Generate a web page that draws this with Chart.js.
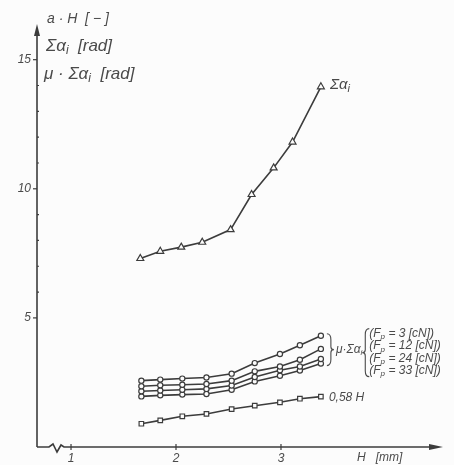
<!DOCTYPE html>
<html>
<head>
<meta charset="utf-8">
<script src="https://cdn.jsdelivr.net/npm/chart.js@4/dist/chart.umd.min.js"></script>
<style>
  html, body { margin: 0; padding: 0; background: #fcfcfc; }
  #wrap { width: 454px; height: 465px; }
</style>
</head>
<body>
<div id="wrap"><canvas id="c" width="454" height="465"></canvas></div>
<script>
// H [mm] positions of the measured points
const H_SUM = [1.66, 1.85, 2.05, 2.25, 2.52, 2.72, 2.93, 3.11, 3.38];
const H_LOW = [1.67, 1.85, 2.06, 2.29, 2.53, 2.75, 2.99, 3.18, 3.38];

// sum of wrap angles [rad]
const SUM_ALPHA = [7.30, 7.58, 7.74, 7.93, 8.42, 9.78, 10.81, 11.81, 13.95];

// mu * sum alpha for the four pretension forces
const MU_F3  = [2.57, 2.61, 2.65, 2.69, 2.84, 3.25, 3.60, 3.94, 4.31];
const MU_F12 = [2.35, 2.39, 2.41, 2.44, 2.57, 2.93, 3.12, 3.38, 3.80];
const MU_F24 = [2.16, 2.19, 2.22, 2.25, 2.38, 2.71, 2.97, 3.12, 3.41];
const MU_F33 = [1.96, 2.00, 2.03, 2.05, 2.22, 2.54, 2.76, 2.96, 3.23];

// reference line 0,58 H
const LINE_058 = [0.90, 1.03, 1.19, 1.28, 1.47, 1.60, 1.73, 1.87, 1.95];

const X_TICKS = [1, 2, 3];
const Y_TICKS = [5, 10, 15];
const Y_MINOR = [6, 7, 8, 9, 11, 12, 13, 14];

const INK = '#3c3c3c';
const TEXT = '#4a4a4a';
const FONT = 'italic 12px "Liberation Sans", "DejaVu Sans", sans-serif';

function pts(xs, ys) {
  return xs.map((x, i) => ({ x: x, y: ys[i] }));
}

function series(data, style, r) {
  return {
    data: data,
    borderColor: INK,
    borderWidth: 1.6,
    pointStyle: style,
    pointRadius: r,
    pointBorderWidth: 1.2,
    pointBorderColor: INK,
    pointBackgroundColor: '#fcfcfc',
    tension: 0,
    fill: false
  };
}

// text with subscripts: parts = [[text, isSub], ...]
function richText(ctx, parts, x, y, size) {
  let cx = x;
  parts.forEach(p => {
    const sub = p[1];
    ctx.font = 'italic ' + (sub ? Math.round(size * 0.7) : size) + 'px "Liberation Sans", "DejaVu Sans", sans-serif';
    ctx.fillText(p[0], cx, sub ? y + size * 0.3 : y);
    cx += ctx.measureText(p[0]).width;
  });
  return cx;
}

const axesPlugin = {
  id: 'axes',
  beforeDatasetsDraw(chart) {
    const ctx = chart.ctx;
    const xs = chart.scales.x, ys = chart.scales.y;
    const x0 = chart.chartArea.left, yb = ys.getPixelForValue(0);
    ctx.save();
    ctx.strokeStyle = INK;
    ctx.fillStyle = INK;
    ctx.lineWidth = 1.6;

    // y axis with arrow
    ctx.beginPath();
    ctx.moveTo(x0, yb);
    ctx.lineTo(x0, chart.chartArea.top);
    ctx.stroke();
    ctx.beginPath();
    ctx.moveTo(x0, chart.chartArea.top - 6);
    ctx.lineTo(x0 - 3, chart.chartArea.top + 6);
    ctx.lineTo(x0 + 3, chart.chartArea.top + 6);
    ctx.closePath();
    ctx.fill();

    // x axis with break and arrow
    const xr = chart.chartArea.right;
    ctx.beginPath();
    ctx.moveTo(x0, yb);
    ctx.lineTo(x0 + 12, yb);
    ctx.lineTo(x0 + 16, yb - 3);
    ctx.lineTo(x0 + 20, yb + 5);
    ctx.lineTo(x0 + 24, yb - 2);
    ctx.lineTo(x0 + 27, yb);
    ctx.lineTo(xr, yb);
    ctx.stroke();
    ctx.beginPath();
    ctx.moveTo(xr + 6, yb);
    ctx.lineTo(xr - 8, yb - 3);
    ctx.lineTo(xr - 8, yb + 3);
    ctx.closePath();
    ctx.fill();

    // ticks
    ctx.lineWidth = 1.2;
    X_TICKS.forEach(v => {
      const px = xs.getPixelForValue(v);
      ctx.beginPath();
      ctx.moveTo(px, yb - 3);
      ctx.lineTo(px, yb + 3);
      ctx.stroke();
    });
    Y_TICKS.forEach(v => {
      const py = ys.getPixelForValue(v);
      ctx.beginPath();
      ctx.moveTo(x0 - 4, py);
      ctx.lineTo(x0, py);
      ctx.stroke();
    });
    Y_MINOR.forEach(v => {
      const py = ys.getPixelForValue(v);
      ctx.beginPath();
      ctx.moveTo(x0, py);
      ctx.lineTo(x0 + 2, py);
      ctx.stroke();
    });

    // tick labels
    ctx.fillStyle = TEXT;
    ctx.font = FONT;
    ctx.textBaseline = 'middle';
    ctx.textAlign = 'center';
    X_TICKS.forEach(v => ctx.fillText(String(v), xs.getPixelForValue(v), yb + 12));
    ctx.textAlign = 'right';
    Y_TICKS.forEach(v => ctx.fillText(String(v), x0 - 6, ys.getPixelForValue(v)));

    // axis titles
    ctx.textAlign = 'left';
    richText(ctx, [['a · H  [ − ]', false]], 47, 19, 14);
    richText(ctx, [['Σα', false], ['i', true], ['  [rad]', false]], 46, 46, 17);
    richText(ctx, [['μ · Σα', false], ['i', true], ['  [rad]', false]], 44, 74, 17);
    richText(ctx, [['H   [mm]', false]], 357, 458, 12);
    ctx.restore();
  },
  afterDatasetsDraw(chart) {
    const ctx = chart.ctx;
    const xs = chart.scales.x, ys = chart.scales.y;
    ctx.save();
    ctx.fillStyle = TEXT;
    ctx.strokeStyle = TEXT;
    ctx.textBaseline = 'middle';
    ctx.textAlign = 'left';

    // curve label for sum alpha
    const last = H_SUM.length - 1;
    richText(ctx, [['Σα', false], ['i', true]],
      xs.getPixelForValue(H_SUM[last]) + 9, ys.getPixelForValue(SUM_ALPHA[last]) - 2, 15);

    // brace for the four mu curves
    const bx = xs.getPixelForValue(H_LOW[last]) + 6;
    const yTop = ys.getPixelForValue(MU_F3[last]) - 2;
    const yBot = ys.getPixelForValue(MU_F33[last]) + 2;
    const ym = (yTop + yBot) / 2;
    ctx.lineWidth = 1.1;
    ctx.beginPath();
    ctx.moveTo(bx, yTop);
    ctx.quadraticCurveTo(bx + 4, yTop, bx + 4, yTop + 6);
    ctx.lineTo(bx + 4, ym - 3);
    ctx.quadraticCurveTo(bx + 4, ym, bx + 7, ym);
    ctx.quadraticCurveTo(bx + 4, ym, bx + 4, ym + 3);
    ctx.lineTo(bx + 4, yBot - 6);
    ctx.quadraticCurveTo(bx + 4, yBot, bx, yBot);
    ctx.stroke();
    const ex = richText(ctx, [['μ·Σα', false], ['i', true]], bx + 9, ym, 12);

    // left brace of the force list
    const lx = ex + 7, lt = ym - 21, lb = ym + 27, lm = ym + 3;
    ctx.beginPath();
    ctx.moveTo(lx, lt);
    ctx.quadraticCurveTo(lx - 4, lt, lx - 4, lt + 6);
    ctx.lineTo(lx - 4, lm - 3);
    ctx.quadraticCurveTo(lx - 4, lm, lx - 7, lm);
    ctx.quadraticCurveTo(lx - 4, lm, lx - 4, lm + 3);
    ctx.lineTo(lx - 4, lb - 6);
    ctx.quadraticCurveTo(lx - 4, lb, lx, lb);
    ctx.stroke();
    const forces = ['3', '12', '24', '33'];
    forces.forEach((f, i) => {
      richText(ctx, [['(F', false], ['p', true], [' = ' + f + ' [cN])', false]], lx, ym - 16 + i * 12.3, 12);
    });

    // 0,58 H label
    richText(ctx, [['0,58 H', false]],
      xs.getPixelForValue(H_LOW[last]) + 8, ys.getPixelForValue(LINE_058[last]) + 1, 12);
    ctx.restore();
  }
};

new Chart(document.getElementById('c'), {
  type: 'line',
  data: {
    datasets: [
      series(pts(H_SUM, SUM_ALPHA), 'triangle', 4),
      series(pts(H_LOW, MU_F3), 'circle', 2.6),
      series(pts(H_LOW, MU_F12), 'circle', 2.6),
      series(pts(H_LOW, MU_F24), 'circle', 2.6),
      series(pts(H_LOW, MU_F33), 'circle', 2.6),
      series(pts(H_LOW, LINE_058), 'rect', 3.2)
    ]
  },
  options: {
    responsive: false,
    animation: false,
    layout: { padding: { left: 37, right: 17, top: 30, bottom: 18 } },
    scales: {
      x: { type: 'linear', min: 0.676, max: 4.486, display: false },
      y: { type: 'linear', min: 0, max: 16.15, display: false }
    },
    plugins: {
      legend: { display: false },
      tooltip: { enabled: false }
    }
  },
  plugins: [axesPlugin]
});
</script>
</body>
</html>
